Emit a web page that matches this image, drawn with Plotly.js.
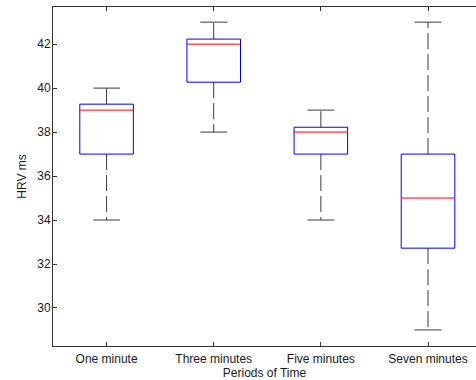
<!DOCTYPE html>
<html>
<head>
<meta charset="utf-8">
<script src="https://cdn.plot.ly/plotly-3.0.1.min.js"></script>
<style>html,body{margin:0;padding:0;background:#fff;}#chart{width:476px;height:380px;}</style>
</head>
<body>
<div id="chart"></div>
<script>
var categories = ['One minute', 'Three minutes', 'Five minutes', 'Seven minutes'];
var positions = [1, 2, 3, 4];
var lowerWhisker = [34, 38, 34, 29];
var q1Values = [37, 40.27, 37, 32.72];
var medianValues = [39, 42, 38, 35];
var q3Values = [39.27, 42.23, 38.22, 37];
var upperWhisker = [40, 43, 39, 43];
var yTicks = [30, 32, 34, 36, 38, 40, 42];

var halfBox = 0.25, halfCap = 0.125;
var bx = [], by = [], wx = [], wy = [], cx = [], cy = [], mx = [], my = [];
for (var i = 0; i < positions.length; i++) {
  var p = positions[i];
  bx.push(p - halfBox, p + halfBox, p + halfBox, p - halfBox, p - halfBox, null);
  by.push(q1Values[i], q1Values[i], q3Values[i], q3Values[i], q1Values[i], null);
  wx.push(p, p, null, p, p, null);
  wy.push(q1Values[i], lowerWhisker[i], null, q3Values[i], upperWhisker[i], null);
  cx.push(p - halfCap, p + halfCap, null, p - halfCap, p + halfCap, null);
  cy.push(lowerWhisker[i], lowerWhisker[i], null, upperWhisker[i], upperWhisker[i], null);
  mx.push(p - halfBox, p + halfBox, null);
  my.push(medianValues[i], medianValues[i], null);
}
var traces = [
  {type: 'scatter', mode: 'lines', x: wx, y: wy, line: {color: '#3a3a3a', width: 1, dash: '16px,5px'}, hoverinfo: 'skip', showlegend: false},
  {type: 'scatter', mode: 'lines', x: cx, y: cy, line: {color: '#3a3a3a', width: 1}, hoverinfo: 'skip', showlegend: false},
  {type: 'scatter', mode: 'lines', x: bx, y: by, line: {color: '#0000ff', width: 1}, hoverinfo: 'skip', showlegend: false},
  {type: 'scatter', mode: 'lines', x: mx, y: my, line: {color: '#ff0000', width: 1}, hoverinfo: 'skip', showlegend: false}
];

var layout = {
  width: 476, height: 380,
  margin: {l: 53, r: 0, t: 7, b: 34},
  paper_bgcolor: '#ffffff', plot_bgcolor: '#ffffff',
  font: {family: 'Liberation Sans, Arial, sans-serif', size: 12, color: '#1a1a1a'},
  showlegend: false,
  xaxis: {
    range: [0.5, 4.448],
    tickmode: 'array', tickvals: positions, ticktext: categories,
    ticks: 'inside', ticklen: 4, tickcolor: '#333',
    showline: true, linecolor: '#333', linewidth: 1, mirror: 'ticks',
    showgrid: false, zeroline: false,
    ticklabelstandoff: 2,
    title: {text: 'Periods of Time', font: {size: 12}, standoff: 5},
    automargin: false
  },
  yaxis: {
    range: [28.27, 43.69],
    tickmode: 'array', tickvals: yTicks,
    ticks: 'inside', ticklen: 4, tickcolor: '#333',
    showline: true, linecolor: '#333', linewidth: 1, mirror: false,
    showgrid: false, zeroline: false,
    ticklabelstandoff: -1,
    title: {text: 'HRV ms', font: {size: 12}, standoff: 8},
    automargin: false
  }
};
Plotly.newPlot('chart', traces, layout, {displayModeBar: false, staticPlot: true});
</script>
</body>
</html>
